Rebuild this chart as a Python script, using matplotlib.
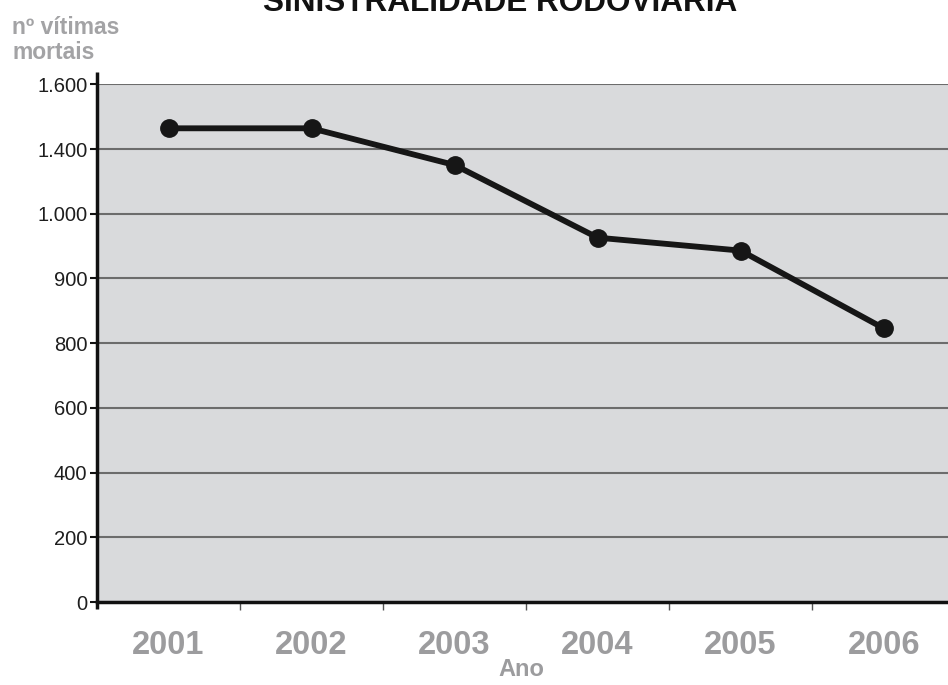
import matplotlib
matplotlib.use("Agg")
import matplotlib.pyplot as plt
import numpy as np

# values read off the (non-linear) vertical axis
years = ['2001', '2002', '2003', '2004', '2005', '2006']
deaths = [1464, 1464, 1301, 963, 943, 823]

tick_values = [0, 200, 400, 600, 800, 900, 1000, 1400, 1600]
tick_labels = ['0', '200', '400', '600', '800', '900', '1.000', '1.400', '1.600']

plt.rcParams['font.family'] = ['Liberation Sans', 'DejaVu Sans']

grey_txt = '#9c9c9e'
tick_idx = np.arange(len(tick_values))


def fwd(v):
    return np.interp(v, tick_values, tick_idx)


def inv(i):
    return np.interp(i, tick_idx, tick_values)


fig = plt.figure(figsize=(9.48, 6.85), dpi=100)
ax = fig.add_axes([97 / 948, 1 - 602 / 685, 1 - 97 / 948, (602 - 84.3) / 685])
ax.set_facecolor('#d9dadc')

ax.set_yscale('function', functions=(fwd, inv))
ax.set_ylim(0, 1600)
ax.set_xlim(-0.5, 5.45)

ax.set_yticks(tick_values, labels=tick_labels)
ax.yaxis.grid(True, color='#6c6c6c', linewidth=1.5)
ax.set_axisbelow(True)

ax.plot(range(len(years)), deaths, color='#161616', linewidth=4.2,
        marker='o', markersize=12.5, zorder=3, clip_on=False)

ax.set_xticks(range(len(years)), labels=years)
ax.set_xticks(np.arange(0.5, 5, 1), minor=True)
ax.tick_params(axis='x', which='major', length=0, pad=20, labelsize=23.5,
               labelcolor=grey_txt)
ax.tick_params(axis='x', which='minor', length=5.5, width=1, color='#555555')
for lbl in ax.get_xticklabels():
    lbl.set_fontweight('bold')
ax.tick_params(axis='y', length=5, width=1.5, color='#111111', labelsize=14.5,
               labelcolor='#1e1e1e', pad=2)

for side in ['top', 'right', 'left']:
    ax.spines[side].set_visible(False)
ax.spines['bottom'].set_linewidth(2.5)
ax.spines['bottom'].set_color('#111111')
ax.plot([0, 0], [-0.0135, 1.024], transform=ax.transAxes, clip_on=False,
        color='#111111', linewidth=2.5, solid_capstyle='butt')

fig.text(0.528, 1 - 11 / 685, 'SINISTRALIDADE RODOVIÁRIA', ha='center',
         va='baseline', fontsize=22.7, fontweight='bold', color='#111111')
fig.text(12 / 948, 1 - 16 / 685, 'nº vítimas\nmortais', ha='left', va='top',
         fontsize=16.5, fontweight='bold', color='#a3a3a5', linespacing=1.1)
fig.text(521 / 948, 1 - 669 / 685, 'Ano', ha='center', va='center',
         fontsize=17, fontweight='bold', color=grey_txt)

fig.savefig('out.png', dpi=100)
